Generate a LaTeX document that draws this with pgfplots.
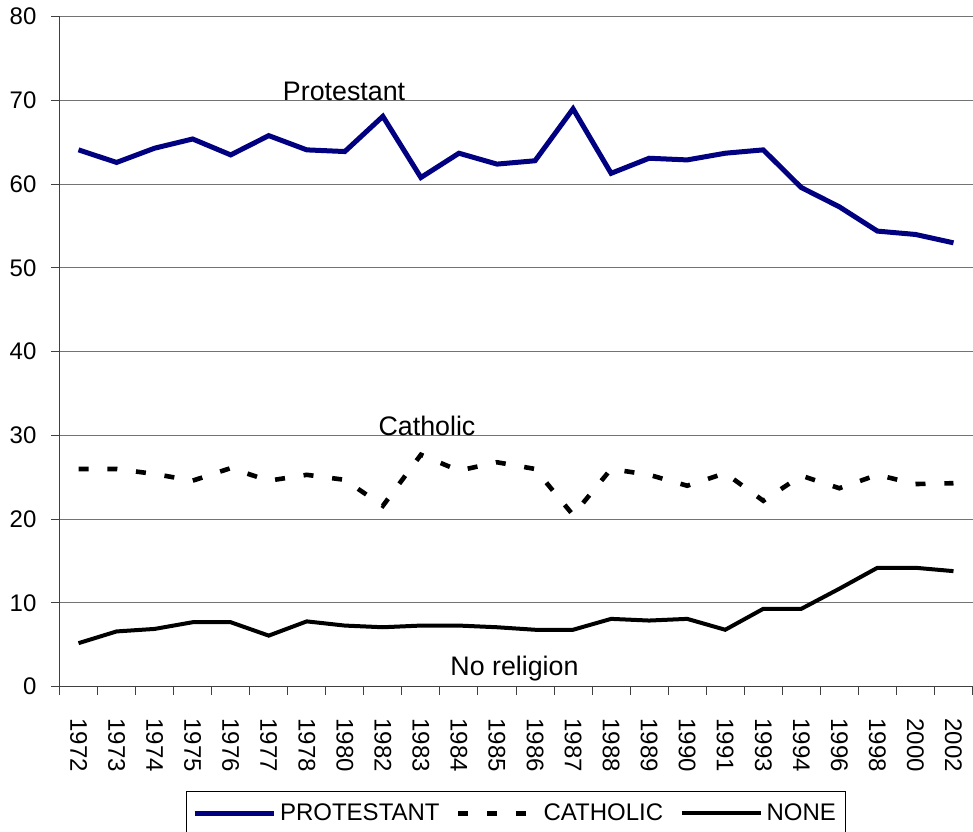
\documentclass[border=0pt]{standalone}
\usepackage{fontspec}
\setmainfont{Liberation Sans}
\usepackage{pgfplots}
\pgfplotsset{compat=1.18}
\definecolor{navyline}{RGB}{0,0,128}
\newcommand{\chartfont}{\fontsize{12pt}{14pt}\selectfont}
\newcommand{\notefont}{\fontsize{13.4pt}{16pt}\selectfont}
\begin{document}
\begin{tikzpicture}
\useasboundingbox (-29.75pt,-72.5pt) rectangle (456.75pt,343.35pt);
\begin{axis}[
  scale only axis, width=456.5pt, height=335pt,
  at={(0,0)}, anchor=south west,
  xmin=-0.5, xmax=23.5, ymin=0, ymax=80,
  axis lines*=left,
  axis line style={black!75, line width=0.6pt},
  ytick={0,10,...,80},
  ymajorgrids, grid style={black!55, line width=0.5pt},
  xtick={0,...,23},
  xticklabels={1972,1973,1974,1975,1976,1977,1978,1980,1982,1983,1984,1985,1986,1987,1988,1989,1990,1991,1993,1994,1996,1998,2000,2002},
  minor xtick={-0.5,0.5,...,23.5},
  every major x tick/.append style={draw=none},
  tick align=outside, major tick length=4pt, minor tick length=4pt,
  tick style={black!75, line width=0.5pt},
  /pgf/number format/assume math mode=true,
  tick label style={font=\chartfont},
  yticklabel style={xshift=-4pt},
  xticklabel style={yshift=-8.3pt, rotate=-90, anchor=west},
  legend columns=3,
  legend style={at={(0.5,-0.1552)}, anchor=north, draw=black, line width=0.5pt,
    font=\chartfont, inner xsep=3pt, inner ysep=4.2pt,
    /tikz/every even column/.append style={column sep=6.2pt}},
  legend image code/.code={\draw[#1] (0pt,0pt) -- (39.5pt,0pt);},
]
\addplot[navyline, line width=2.5pt] coordinates {
(0,64.1) (1,62.6) (2,64.3) (3,65.4) (4,63.5) (5,65.8) (6,64.1) (7,63.9) (8,68.1) (9,60.8) (10,63.7) (11,62.4) (12,62.8) (13,69.0) (14,61.3) (15,63.1) (16,62.9) (17,63.7) (18,64.1) (19,59.6) (20,57.3) (21,54.4) (22,54.0) (23,53.0)};
\addlegendentry{PROTESTANT}
\addplot[black, line width=2.3pt, dash pattern=on 5pt off 9.4pt] coordinates {
(0,26.0) (1,26.0) (2,25.4) (3,24.6) (4,26.1) (5,24.6) (6,25.3) (7,24.7) (8,21.6) (9,27.7) (10,25.8) (11,26.8) (12,26.0) (13,20.5) (14,26.0) (15,25.3) (16,24.0) (17,25.5) (18,22.2) (19,25.2) (20,23.7) (21,25.3) (22,24.2) (23,24.3)};
\addlegendentry{CATHOLIC}
\addplot[black, line width=2pt] coordinates {
(0,5.2) (1,6.6) (2,6.9) (3,7.7) (4,7.7) (5,6.1) (6,7.8) (7,7.3) (8,7.1) (9,7.3) (10,7.3) (11,7.1) (12,6.8) (13,6.8) (14,8.1) (15,7.9) (16,8.1) (17,6.8) (18,9.3) (19,9.3) (20,11.7) (21,14.2) (22,14.2) (23,13.8)};
\addlegendentry{NONE}
\node[anchor=base, font=\notefont, inner sep=0pt] at (axis cs:6.98,69.96) {Protestant};
\node[anchor=base, font=\notefont, inner sep=0pt] at (axis cs:9.16,30.03) {Catholic};
\node[anchor=base, font=\notefont, inner sep=0pt] at (axis cs:11.46,1.31) {No religion};
\end{axis}
\end{tikzpicture}
\end{document}
